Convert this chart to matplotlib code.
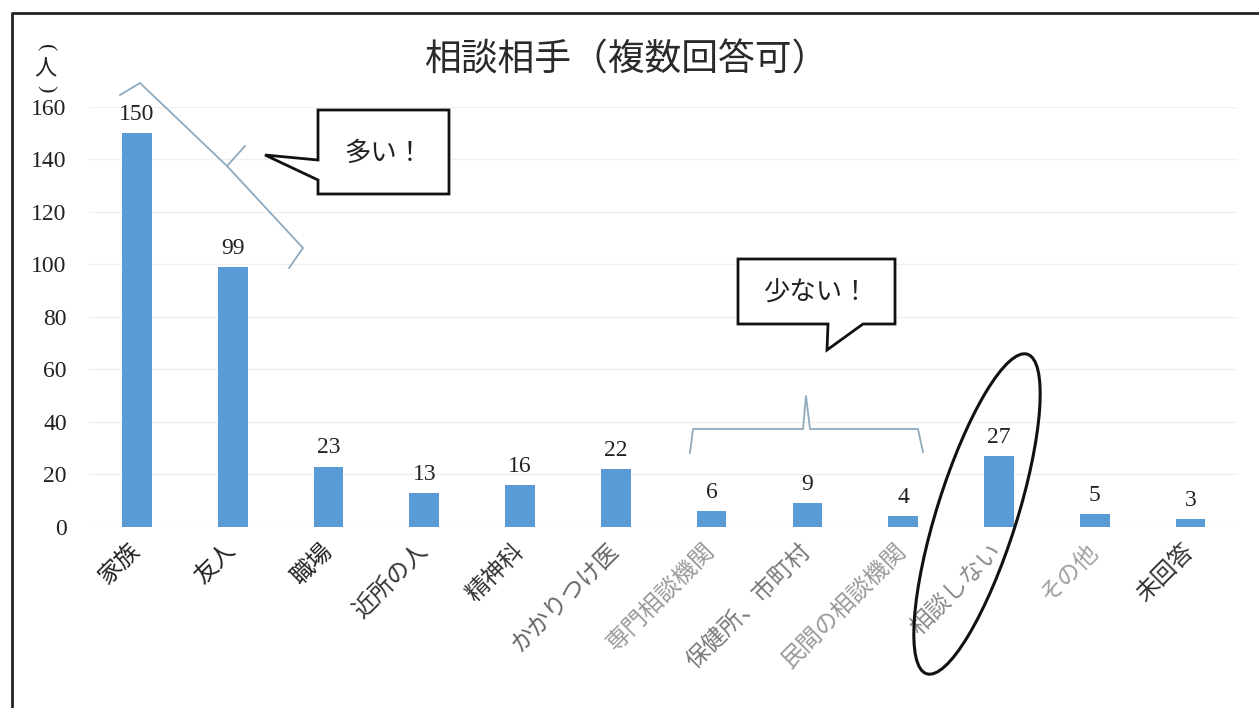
import matplotlib.pyplot as plt
from matplotlib.patches import Ellipse, Polygon

# 相談相手（複数回答可）の集計
categories = ['家族', '友人', '職場', '近所の人', '精神科', 'かかりつけ医',
              '専門相談機関', '保健所、市町村', '民間の相談機関', '相談しない',
              'その他', '未回答']
counts = [150, 99, 23, 13, 16, 22, 6, 9, 4, 27, 5, 3]
label_colors = ['#222222', '#222222', '#222222', '#333333', '#333333', '#666666',
                '#9a9a9a', '#7a7a7a', '#9a9a9a', '#8a8a8a', '#a0a0a0', '#333333']
yticks = [0, 20, 40, 60, 80, 100, 120, 140, 160]

JP = ['Noto Sans CJK JP', 'DejaVu Sans']
SERIF = ['Liberation Serif', 'DejaVu Serif']
BAR = '#5b9bd5'

fig = plt.figure(figsize=(12.59, 7.08), dpi=100)
ax = fig.add_axes([0.0707, 0.2557, 0.913, 0.5932])

x = range(len(categories))
ax.bar(x, counts, width=0.31, color=BAR, zorder=2)
for i, v in zip(x, counts):
    ax.annotate(str(v), (i, v), xytext=(0, 6), textcoords='offset points',
                ha='center', va='bottom', fontsize=17, family=SERIF, color='#222222')

ax.set_xlim(-0.5, len(categories) - 0.5)
ax.set_ylim(0, 160)
ax.set_yticks(yticks)
ax.set_yticklabels([str(t) for t in yticks], family=SERIF, fontsize=17, color='#222222')
ax.tick_params(axis='y', length=0, pad=16)
ax.tick_params(axis='x', length=0, pad=15)
ax.set_xticks(list(x))
ax.set_xticklabels(categories, rotation=45, ha='right', va='center',
                   rotation_mode='anchor', family=JP, fontsize=17)
for lbl, c in zip(ax.get_xticklabels(), label_colors):
    lbl.set_color(c)
ax.grid(axis='y', color='#f0f0f0', linewidth=1, zorder=0)
for s in ax.spines.values():
    s.set_visible(False)

# 注記用のレイヤー（ピクセル座標）
ov = fig.add_axes([0, 0, 1, 1], zorder=5)
ov.set_xlim(0, 1259)
ov.set_ylim(708, 0)
ov.axis('off')
ov.patch.set_alpha(0)

# 外枠
ov.plot([12, 12, 1259], [708, 13, 13], color='#222222', lw=2)

ov.text(627, 60, '相談相手（複数回答可）', ha='center', va='center',
        fontsize=26.5, family=JP, color='#2a2a2a')
# 縦書きの単位（人）：括弧は回転させて上下に置く
ov.text(45, 48, '(', ha='center', va='center', fontsize=16, rotation=-90,
        rotation_mode='anchor', family=SERIF, color='#222222')
ov.text(45, 69, '人', ha='center', va='center', fontsize=16,
        family=JP, color='#222222')
ov.text(45, 89, ')', ha='center', va='center', fontsize=16, rotation=-90,
        rotation_mode='anchor', family=SERIF, color='#222222')

# 上位2項目をくくる括弧
brace_col = '#8fa9bd'
ov.plot([120, 140, 227, 245], [95, 83, 166, 146], color=brace_col, lw=1.3)
ov.plot([227, 303, 289], [166, 248, 268], color=brace_col, lw=1.3)

# 吹き出し「多い！」
ov.add_patch(Polygon([(318, 110), (449, 110), (449, 194), (318, 194), (318, 180),
                      (265, 155), (318, 160)], closed=True, fc='white',
                     ec='#111111', lw=2))
ov.text(384, 153, '多い！', ha='center', va='center', fontsize=19, family=JP,
        color='#222222')

# 公的・専門機関をくくる括弧
ov.plot([690, 693, 803, 806, 810, 918, 923],
        [453, 429, 429, 396, 429, 429, 452], color=brace_col, lw=1.3)

# 吹き出し「少ない！」
ov.add_patch(Polygon([(738, 259), (895, 259), (895, 324), (863, 324), (827, 350),
                      (828, 324), (738, 324)], closed=True, fc='white',
                     ec='#111111', lw=2))
ov.text(816, 293, '少ない！', ha='center', va='center', fontsize=19, family=JP,
        color='#222222')

# 「相談しない」を囲む楕円
ov.add_patch(Ellipse((977, 514), 335, 80, angle=-72.5, fill=False,
                     ec='#111111', lw=2.2))

fig.savefig('out.png', dpi=100)
